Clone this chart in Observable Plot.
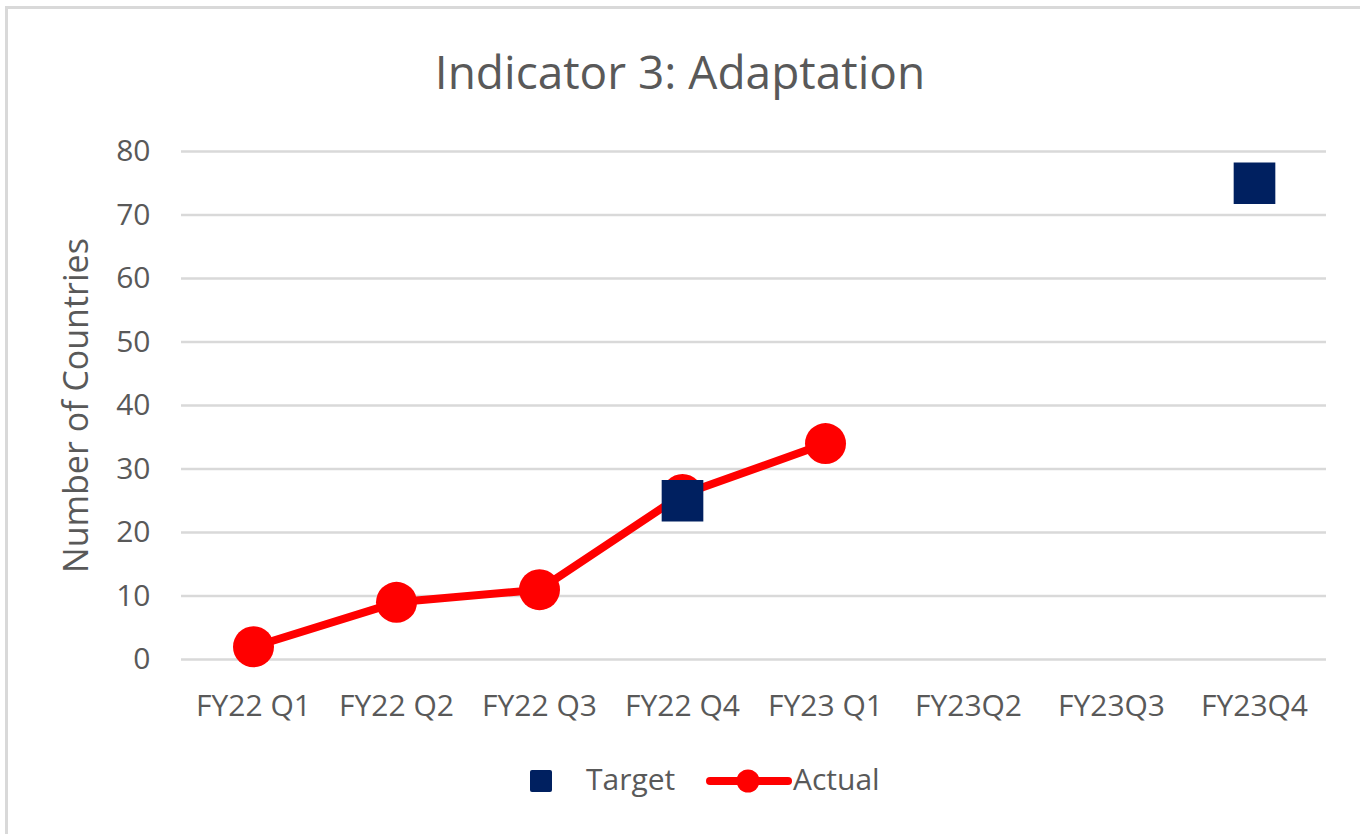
<!DOCTYPE html>
<html>
<head>
<meta charset="utf-8">
<script src="https://cdn.jsdelivr.net/npm/d3@7"></script>
<script src="https://cdn.jsdelivr.net/npm/@observablehq/plot@0.6"></script>
<style>
  html, body { margin: 0; padding: 0; background: #fff; }
  body { width: 1360px; height: 834px; overflow: hidden; position: relative; font-family: "Open Sans", sans-serif; color: #595959; }
  #frame { position: absolute; left: 5px; top: 6px; width: 1400px; height: 900px; border-left: 3px solid #d9d9d9; border-top: 3px solid #d9d9d9; pointer-events: none; }
  #title { height: 130px; box-sizing: border-box; padding-top: 40px; text-align: center; font-size: 46px; line-height: normal; white-space: nowrap; }
  #legend { position: relative; height: 94px; font-size: 30px; }
  #legend .item { position: absolute; line-height: normal; }
</style>
</head>
<body>
<div id="frame"></div>
<div id="title">Indicator 3: Adaptation</div>
<div id="chart"></div>
<div id="legend"></div>
<script>
const categories = ["FY22 Q1", "FY22 Q2", "FY22 Q3", "FY22 Q4", "FY23 Q1", "FY23Q2", "FY23Q3", "FY23Q4"];
const targetValues = [null, null, null, 25, null, null, null, 75];
const actualValues = [2, 9, 11, 26, 34, null, null, null];
const yTicks = [0, 10, 20, 30, 40, 50, 60, 70, 80];
const seriesNames = ["Target", "Actual"];
const colors = {Target: "#002060", Actual: "#ff0000"};

const actual = categories.map((c, i) => ({cat: c, value: actualValues[i]})).filter(d => d.value != null);
const target = categories.map((c, i) => ({cat: c, value: targetValues[i]})).filter(d => d.value != null);

const chart = Plot.plot({
  width: 1360,
  height: 610,
  marginLeft: 181,
  marginRight: 34,
  marginTop: 21,
  marginBottom: 81,
  style: {fontFamily: "'Open Sans', sans-serif", fontSize: "30px", color: "#595959", background: "transparent", overflow: "visible"},
  x: {type: "point", domain: categories, padding: 0.5},
  y: {domain: [0, 80]},
  marks: [
    Plot.gridY(yTicks, {stroke: "#d9d9d9", strokeOpacity: 1, strokeWidth: 2.5}),
    Plot.axisY(yTicks, {tickSize: 0, tickPadding: 31, fontSize: 30, fill: "#595959",
      label: "Number of Countries", labelAnchor: "center", labelArrow: "none", labelOffset: 118}),
    Plot.axisX(categories, {tickSize: 0, tickPadding: 35, fontSize: 30, fill: "#595959", label: null}),
    Plot.line(actual, {x: "cat", y: "value", stroke: colors.Actual, strokeWidth: 8}),
    Plot.dot(actual, {x: "cat", y: "value", r: 20.5, fill: colors.Actual, stroke: "none"}),
    Plot.dot(target, {x: "cat", y: "value", symbol: "square", r: 23.5, fill: colors.Target, stroke: "none"})
  ]
});
document.getElementById("chart").appendChild(chart);

// y-axis label styling
chart.querySelectorAll("[aria-label='y-axis label'] text").forEach(t => { t.setAttribute("font-size", "34px"); t.style.fontSize = "34px"; });

// Legend
const legend = document.getElementById("legend");
legend.innerHTML = `
  <svg class="item" style="left:530px;top:30px" width="22" height="22"><rect width="22" height="22" rx="2" fill="${colors.Target}"/></svg>
  <div class="item" style="left:586px;top:18px">${seriesNames[0]}</div>
  <svg class="item" style="left:706px;top:28px" width="86" height="26"><line x1="4" x2="82" y1="13" y2="13" stroke="${colors.Actual}" stroke-width="8" stroke-linecap="round"/><circle cx="42" cy="13" r="11.5" fill="${colors.Actual}"/></svg>
  <div class="item" style="left:793px;top:18px">${seriesNames[1]}</div>
`;
</script>
</body>
</html>
